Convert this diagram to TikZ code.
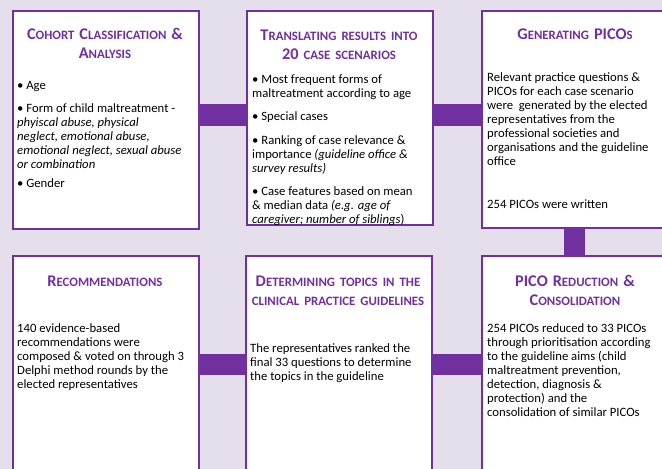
\documentclass[tikz,border=0pt]{standalone}
\usepackage{fontspec}
\setmainfont{Carlito}
\usetikzlibrary{positioning}

\definecolor{stagePurple}{HTML}{7030A0}
\definecolor{bgLilac}{HTML}{E5DFEC}

\newcommand{\smc}[1]{{\fontsize{12.8}{12}\selectfont\MakeUppercase{#1}}}
\newcommand{\widespace}{\spaceskip=5pt plus 1pt\relax}

\tikzset{
    stage/.style = {draw=stagePurple, line width=1.6pt, fill=white, anchor=north west, inner sep=0pt},
    stagetitle/.style = {text=stagePurple, font=\bfseries\fontsize{16.3}{19}\selectfont\widespace, align=center, anchor=north, inner sep=0pt},
    stagebody/.style = {font=\fontsize{12.7}{14}\selectfont, align=left, anchor=north west, inner sep=0pt},
    link/.style = {draw=stagePurple, line width=22pt}
}

\begin{document}
\begin{tikzpicture}[x=1pt, y=1pt]
    \useasboundingbox (0,0) rectangle (662,-469);
    \clip (0,0) rectangle (662,-469);
    \fill[bgLilac] (0,0) rectangle (662,-469);

    % top row
    \node[stage, minimum width=186pt, minimum height=218pt] (cohort) at (12,-10) {};
    \node[stage, minimum width=186pt, minimum height=214pt] (translate) at (246,-10) {};
    \node[stage, minimum width=188pt, minimum height=217pt] (picos) at (481,-10) {};

    % bottom row
    \node[stage, minimum width=186pt, minimum height=230pt] (recommend) at (12,-255) {};
    \node[stage, minimum width=186pt, minimum height=230pt] (topics) at (245,-255) {};
    \node[stage, minimum width=188pt, minimum height=230pt] (reduce) at (481,-255) {};

    % titles
    \node[stagetitle] (cohortTitle) at (105,-26.2) {\strut C\smc{ohort} C\smc{lassification} \&\\A\smc{nalysis}};
    \node[stagetitle] (translateTitle) at (339,-26.7) {\strut T\smc{ranslating results into}\\20 \smc{case scenarios}};
    \node[stagetitle] (picosTitle) at (575,-26.2) {\strut G\smc{enerating} PICO\smc{s}};
    \node[stagetitle] (recommendTitle) at (105,-272.7) {\strut R\smc{ecommendations}};
    \node[stagetitle] (topicsTitle) at (338,-273) {\strut D\smc{etermining topics in the}\\\smc{clinical practice guidelines}};
    \node[stagetitle] (reduceTitle) at (575,-273) {\strut PICO R\smc{eduction} \&\\C\smc{onsolidation}};

    % texts
    \node[stagebody] (cohortText) at (17,-79.4) {%
        \strut• Age\\[9pt]
        • Form of child maltreatment -\\
        \textit{phyiscal abuse, physical}\\
        \textit{neglect, emotional abuse,}\\
        \textit{emotional neglect, sexual abuse}\\
        \textit{or combination}\\[5pt]
        • Gender};
    \node[stagebody] (translateText) at (252,-73.2) {%
        \strut• Most frequent forms of\\
        maltreatment according to age\\[9pt]
        • Special cases\\[10pt]
        • Ranking of case relevance \&\\
        importance \textit{(guideline office \&}\\
        \textit{survey results)}\\[9pt]
        • Case features based on mean\\
        \& median data \textit{(e.g. age of}\\
        \textit{caregiver; number of siblings})};
    \node[stagebody] (picosText) at (487,-71.4) {%
        \strut Relevant practice questions \&\\
        PICOs for each case scenario\\
        were~ generated by the elected\\
        representatives from the\\
        professional societies and\\
        organisations and the guideline\\
        office\\[29pt]
        254 PICOs were written};
    \node[stagebody] (recommendText) at (17,-322.4) {%
        \strut 140 evidence-based\\
        recommendations were\\
        composed \& voted on through 3\\
        Delphi method rounds by the\\
        elected representatives};
    \node[stagebody] (topicsText) at (250,-342) {%
        \strut The representatives ranked the\\
        final 33 questions to determine\\
        the topics in the guideline};
    \node[stagebody] (reduceText) at (487,-322.4) {%
        \strut 254 PICOs reduced to 33 PICOs\\
        through prioritisation according\\
        to the guideline aims (child\\
        maltreatment prevention,\\
        detection, diagnosis \&\\
        protection) and the\\
        consolidation of similar PICOs};

    % links
    \draw[link] ([yshift=4.5pt]cohort.east) -- ([yshift=4.5pt]cohort.east -| translate.west);
    \draw[link] ([yshift=2.5pt]translate.east) -- ([yshift=2.5pt]translate.east -| picos.west);
    \draw[link, line width=21pt] ([xshift=-1.5pt]picos.south) -- ([xshift=-1.5pt]picos.south |- reduce.north);
    \draw[link, line width=21pt] ([yshift=6.5pt]recommend.east) -- ([yshift=6.5pt]recommend.east -| topics.west);
    \draw[link, line width=21pt] ([yshift=6.5pt]topics.east) -- ([yshift=6.5pt]topics.east -| reduce.west);
\end{tikzpicture}
\end{document}
